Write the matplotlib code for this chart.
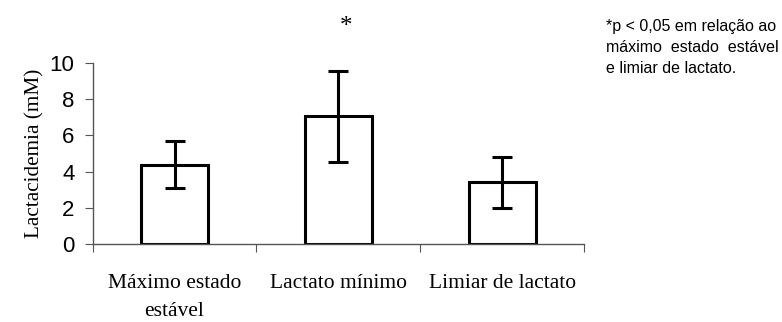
import matplotlib
matplotlib.use('Agg')
import matplotlib.pyplot as plt

categories = ['Máximo estado\nestável', 'Lactato mínimo', 'Limiar de lactato']
means = [4.4, 7.05, 3.42]
errors = [1.27, 2.5, 1.4]
y_ticks = [0, 2, 4, 6, 8, 10]

fig = plt.figure(figsize=(7.82, 3.22), dpi=100)
ax = fig.add_axes([0.1185, 0.2407, 0.6283, 0.5646])

x = list(range(len(categories)))
ax.bar(x, means, width=0.41, color='white', edgecolor='black', linewidth=2.2,
       yerr=errors, error_kw=dict(ecolor='black', elinewidth=2.2, capsize=7, capthick=2.2))

ax.set_xlim(-0.5, 2.5)
ax.set_ylim(0, 10)
ax.set_yticks(y_ticks)
ax.set_yticklabels([str(v) for v in y_ticks], fontfamily='Liberation Sans', fontsize=16)
ax.set_xticks([-0.5, 0.5, 1.5, 2.5])
ax.set_xticklabels([])
ax.set_xticks(x, minor=True)
ax.set_xticklabels(categories, minor=True, fontfamily='Liberation Serif', fontsize=15.5,
                   linespacing=1.65)
ax.tick_params(axis='x', which='minor', length=0, pad=21)
ax.tick_params(axis='x', which='major', length=6, color='#555555', direction='out')
ax.tick_params(axis='y', length=6, color='#555555', direction='out', pad=7)
for s in ['top', 'right']:
    ax.spines[s].set_visible(False)
for s in ['left', 'bottom']:
    ax.spines[s].set_color('#555555')
    ax.spines[s].set_linewidth(1.0)

ax.set_ylabel('Lactacidemia (mM)', fontfamily='Liberation Serif', fontsize=15.3, labelpad=4)

fig.text(346 / 782, 1 - 27 / 322, '*', fontfamily='Liberation Serif', fontsize=18,
         ha='center', va='center')
fig.text(606 / 782, 1 - 19 / 322, '*p < 0,05 em relação ao\nmáximo  estado  estável\ne limiar de lactato.',
         fontfamily='Liberation Sans', fontsize=11.5,
         ha='left', va='top', linespacing=1.5)

fig.savefig('out.png', dpi=100)
